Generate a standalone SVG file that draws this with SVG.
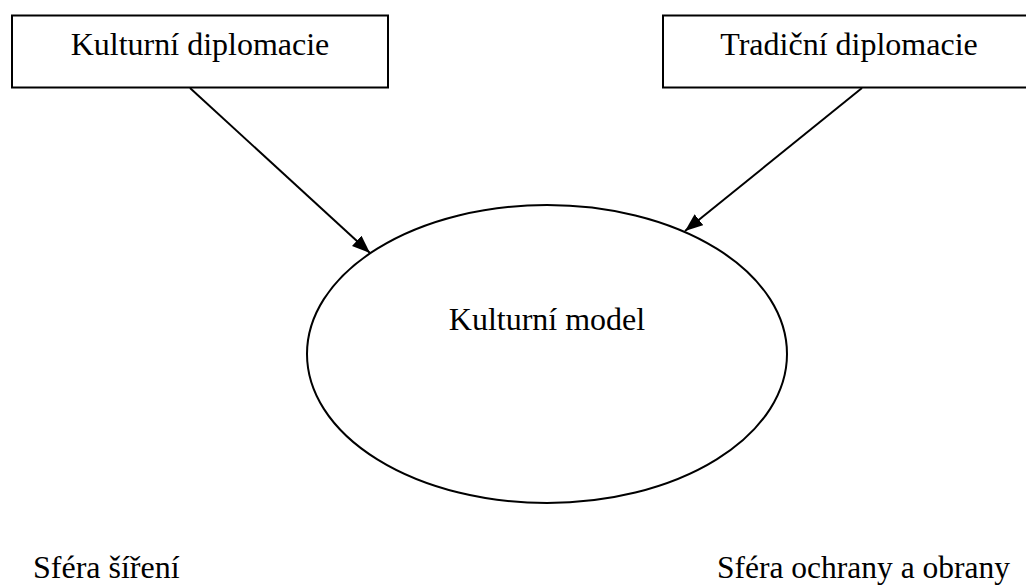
<svg xmlns="http://www.w3.org/2000/svg" width="1026" height="587" viewBox="0 0 1026 587">
<style>
.box{fill:#fff;stroke:#000;stroke-width:2}
.lbl{font-family:"Liberation Serif","Times New Roman",serif;font-size:32px;fill:#000}
.edge{stroke:#000;stroke-width:2;fill:none}
</style>
<defs>
<marker id="ah" markerUnits="userSpaceOnUse" markerWidth="20" markerHeight="16" refX="18" refY="7" orient="auto">
<path d="M0,0 L18,7 L0,14 Z" fill="#000"/>
</marker>
</defs>
<rect width="1026" height="587" fill="#fff"/>
<g id="connectors">
<line class="edge" x1="190" y1="88" x2="370" y2="253" marker-end="url(#ah)"/>
<line class="edge" x1="862" y1="88" x2="685" y2="231" marker-end="url(#ah)"/>
</g>
<g id="kulturni-diplomacie">
<rect class="box" x="12" y="15.5" width="376" height="72"/>
<text class="lbl" x="200" y="55" text-anchor="middle">Kulturní diplomacie</text>
</g>
<g id="tradicni-diplomacie">
<rect class="box" x="663" y="15.5" width="380" height="72"/>
<text class="lbl" x="849" y="55" text-anchor="middle">Tradiční diplomacie</text>
</g>
<g id="kulturni-model">
<ellipse class="box" cx="547" cy="354" rx="240" ry="149" fill="none"/>
<text class="lbl" x="547" y="330" text-anchor="middle">Kulturní model</text>
</g>
<g id="sfera-sireni">
<text class="lbl" x="33" y="578">Sféra šíření</text>
</g>
<g id="sfera-ochrany">
<text class="lbl" x="717" y="578" style="font-size:31.5px">Sféra ochrany a obrany</text>
</g>
</svg>
